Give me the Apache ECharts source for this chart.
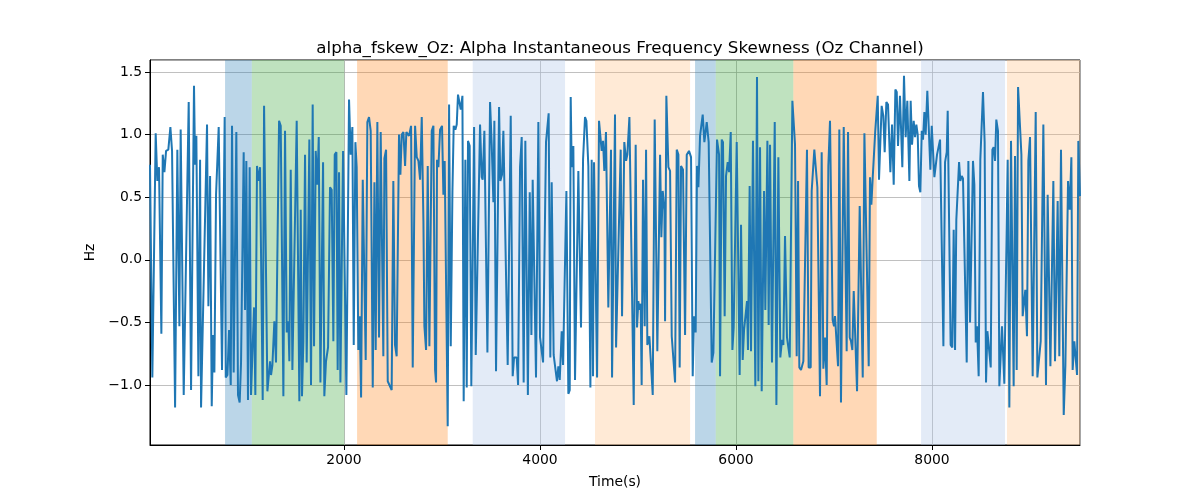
<!DOCTYPE html>
<html>
<head>
<meta charset="utf-8">
<script src="https://cdn.jsdelivr.net/npm/echarts@6/dist/echarts.min.js"></script>
<style>
html,body{margin:0;padding:0;background:#fff;}
#chart{width:1200px;height:500px;}
</style>
</head>
<body>
<div id="chart"></div>
<script>
// Time (s) and alpha frequency skewness (Hz) pairs
const fskewOz = [
[20,0.76],[44,-0.94],[78,1.01],[95,0.63],[112,0.74],[126,0.74],[136,-0.59],[150,0.84],[167,0.70],[184,0.87],
[207,0.88],[228,1.06],[245,0.87],[276,-1.18],[299,0.88],[320,-0.53],[333,1.04],[364,-1.08],[415,1.26],[425,1.26],
[439,-1.04],[469,1.39],[480,0.76],[493,0.99],[514,-0.93],[531,0.80],[541,-1.18],[602,1.08],[616,-0.37],[633,0.67],
[650,-1.17],[663,-0.60],[677,-0.90],[694,0.52],[721,1.06],[755,-0.88],[782,1.14],[793,-0.94],[810,-0.92],[827,-0.56],
[844,-1.0],[857,1.07],[874,-0.90],[901,1.02],[918,-1.08],[935,-1.14],[949,-0.82],[966,-0.81],
[976,0.86],[990,-0.40],[1003,0.79],[1020,-1.12],[1037,0.74],[1051,-1.08],[1068,-0.68],[1082,-0.38],[1095,-1.08],[1112,0.75],
[1126,0.63],[1143,0.74],[1170,-1.12],[1184,1.23],[1218,-1.05],[1245,-0.81],[1255,-0.92],[1269,-0.84],[1289,-0.49],[1306,-0.82],
[1337,1.11],[1354,1.07],[1381,-1.09],[1398,1.03],[1415,-0.58],[1432,-0.49],[1442,-0.81],[1456,0.72],[1473,-0.88],[1517,1.11],
[1544,-1.13],[1558,0.40],[1571,-1.09],[1585,-0.65],[1602,0.84],[1619,-0.82],[1646,0.96],[1663,-1.0],[1680,1.24],[1694,-0.69],
[1711,0.87],[1728,0.60],[1742,0.98],[1759,-0.98],[1786,0.78],[1799,-1.09],[1816,-0.81],[1837,-0.70],[1857,0.58],[1874,0.56],
[1891,-0.65],[1905,0.84],[1922,0.86],[1935,-0.88],[1949,0.70],
[1963,-0.98],[1990,0.87],[2024,-1.08],[2051,1.28],[2068,0.84],[2085,1.06],[2099,-0.68],[2116,0.94],[2129,0.74],[2146,-0.72],
[2160,-0.45],[2174,-1.10],[2191,0.64],[2221,-0.80],[2238,1.10],[2255,1.14],[2272,1.03],[2293,-1.02],[2310,0.62],[2323,-0.72],
[2340,1.10],[2357,-0.62],[2374,1.02],[2401,-0.77],[2412,0.81],[2429,0.88],[2446,-0.97],[2463,-1.0],[2486,-1.04],[2503,0.63],
[2520,-0.68],[2537,-0.77],[2561,1.0],[2575,0.68],[2589,1.0],[2606,1.02],[2623,0.75],[2636,1.02],[2663,0.99],[2684,1.07],
[2701,-0.86],[2725,1.07],[2742,0.82],[2759,0.79],[2776,0.64],[2793,1.14],[2810,0.31],[2820,-0.53],[2837,-0.72],[2854,0.75],
[2871,-0.69],[2895,1.03],[2912,1.07],
[2929,-0.88],[2939,-0.98],[2949,0.80],[2963,0.74],[2980,1.04],[3000,1.07],[3014,0.52],[3027,0.79],[3058,-1.33],[3072,1.24],
[3089,-0.69],[3106,0.54],[3119,1.07],[3136,1.04],[3150,1.08],[3163,1.32],[3177,1.26],[3191,1.20],[3208,1.31],[3221,-1.13],
[3238,0.80],[3252,-1.02],[3265,0.95],[3282,0.91],[3299,-1.01],[3313,-1.0],[3327,1.06],[3344,-0.76],[3388,1.08],[3405,0.66],
[3415,0.64],[3432,1.03],[3463,-0.74],[3490,1.26],[3507,0.92],[3524,0.46],[3534,1.11],[3551,-0.89],[3582,1.22],[3595,0.63],
[3612,0.68],[3626,1.03],[3670,-0.84],[3701,1.15],[3721,-0.93],[3735,-0.78],[3762,-0.78],[3776,-1.0],[3796,0.74],[3813,0.98],
[3833,-0.98],[3850,0.95],[3876,-1.08],[3895,0.54],
[3912,-0.60],[3925,0.64],[3959,-0.94],[3983,1.10],[4000,-0.62],[4031,-0.82],[4061,0.94],[4088,1.17],[4105,-0.78],[4119,0.62],
[4139,-0.76],[4173,-0.97],[4187,-0.85],[4201,-0.96],[4221,-0.57],[4235,-0.84],[4269,0.55],[4289,-1.07],[4303,-1.04],[4313,1.30],
[4323,0.74],[4340,0.91],[4357,-0.96],[4391,0.71],[4418,-0.54],[4439,0.80],[4459,1.14],[4473,1.11],[4493,0.75],[4514,-1.02],
[4527,0.80],[4541,-0.93],[4551,0.78],[4582,-0.94],[4602,1.11],[4616,1.12],[4629,0.87],[4643,0.95],[4656,0.71],[4673,1.02],
[4697,-0.38],[4724,0.88],[4735,-0.94],[4765,1.16],[4776,-0.70],[4793,-0.70],[4823,0.88],[4837,-0.45],[4860,0.94],
[4878,0.79],[4891,0.84],[4912,1.14],[4956,-1.16],[4976,0.92],[4990,-0.54],[5003,-0.33],[5014,-0.40],[5027,-0.35],[5037,-1.0],
[5051,0.64],[5068,-0.53],[5082,0.88],[5095,-0.68],[5116,-0.61],[5150,-1.08],[5170,1.12],[5197,-0.73],[5225,0.84],[5238,0.18],
[5252,0.55],[5269,0.40],[5276,-0.49],[5289,1.31],[5310,0.74],[5327,0.71],[5344,-0.61],[5378,-0.98],[5395,0.88],[5412,0.84],
[5425,-0.86],[5439,0.75],[5459,0.72],[5480,-0.60],[5497,0.84],[5520,0.87],[5541,0.82],[5558,-0.93],[5571,-0.45],[5588,-0.58],
[5602,0.75],[5616,0.58],[5633,0.99],[5660,1.16],[5677,0.94],[5701,1.10],[5721,0.94],[5752,-0.82],[5769,-0.74],[5806,0.96],
[5827,0.84],
[5837,-0.93],[5854,0.96],[5867,0.94],[5884,-0.45],[5898,0.67],[5915,0.78],[5929,0.70],[5946,1.02],[5963,-0.72],[5976,-0.54],
[6007,0.94],[6037,-0.92],[6051,0.28],[6068,-0.80],[6082,-0.56],[6099,-0.56],[6112,-0.33],[6122,-0.72],[6139,0.59],[6153,-0.73],
[6173,0.95],[6197,-1.01],[6214,1.46],[6228,-0.97],[6245,0.90],[6262,-1.05],[6286,0.55],[6299,-0.40],[6320,0.95],[6333,-0.52],
[6347,0.92],[6367,-0.82],[6395,1.10],[6412,-1.16],[6432,0.82],[6452,-0.78],[6469,-0.64],[6483,-0.68],[6500,0.19],[6520,-0.62],
[6548,-0.78],[6575,1.27],[6602,0.92],[6619,-0.77],[6633,0.63],[6646,-0.86],[6663,-0.88],[6687,-0.81],[6724,0.88],[6741,-0.86],
[6762,-0.86],[6772,0.55],[6799,0.88],
[6830,0.58],[6857,-1.09],[6874,0.86],[6891,-0.87],[6908,-0.62],[6925,-1.0],[6942,0.75],[6959,1.11],[6973,1.10],[6986,-0.48],
[7000,-0.53],[7010,-0.45],[7041,-0.85],[7054,1.04],[7071,-1.14],[7099,1.06],[7129,-0.73],[7143,1.02],[7160,-0.62],[7173,-0.65],
[7187,-0.72],[7201,-0.25],[7235,-1.05],[7262,0.43],[7293,-0.94],[7310,1.01],[7323,1.02],[7354,-0.85],[7367,0.66],[7381,0.44],
[7395,0.66],[7420,1.02],[7446,1.31],[7459,0.64],[7486,1.23],[7503,1.15],[7517,0.86],[7534,1.26],[7551,1.24],[7575,0.70],
[7592,1.08],[7609,0.60],[7626,1.36],[7640,1.34],[7653,0.91],[7673,1.31],[7697,0.74],[7714,1.47],[7731,0.98],[7748,1.27],
[7769,0.63],
[7782,1.27],[7796,0.92],[7813,1.11],[7827,0.98],[7840,1.08],[7854,1.0],[7867,0.59],[7881,0.54],[7895,1.03],[7908,0.96],
[7922,1.18],[7935,1.0],[7952,1.35],[7966,1.07],[7983,0.72],[7997,1.07],[8024,0.66],[8051,0.84],[8082,0.96],[8116,-0.69],
[8133,0.78],[8150,0.86],[8160,1.19],[8190,-0.68],[8207,-0.70],[8221,0.24],[8235,-0.72],[8248,0.32],[8262,0.32],[8276,0.78],
[8289,0.63],[8303,0.67],[8316,0.65],[8354,-0.82],[8371,0.79],[8388,-0.50],[8418,0.79],[8432,0.60],[8446,-0.66],[8459,-0.53],
[8476,-0.93],[8493,0.80],[8520,1.34],[8537,0.94],[8551,-0.98],[8565,-0.57],[8599,-0.86],[8616,0.88],[8629,0.90],[8643,0.79],
[8656,1.12],[8673,1.03],[8687,-1.01],[8714,-0.53],[8738,-0.99],
[8772,0.80],[8789,-1.18],[8806,0.95],[8833,-1.01],[8847,0.83],[8864,-0.88],[8878,1.38],[8912,0.84],[8925,-0.45],[8952,-0.24],
[8969,-0.61],[8983,0.79],[9000,0.98],[9027,-0.93],[9058,1.18],[9075,-0.94],[9109,-0.65],[9136,1.08],[9163,-1.0],[9180,0.52],
[9208,-0.85],[9238,0.63],[9255,-0.81],[9282,0.47],[9299,-0.77],[9316,0.88],[9344,-1.24],[9361,-0.84],[9388,0.63],[9405,0.40],
[9422,0.82],[9435,-0.88],[9452,-0.65],[9480,-0.92],[9493,0.95],[9510,0.51]
];

// Shaded event windows (seconds)
const spanStart = [786, 1059, 2133, 3313, 4561, 5582, 5793, 6585, 7888, 8765];
const spanEnd   = [1059, 2003, 3058, 4255, 5531, 5793, 6585, 7436, 8745, 9510];
const spanKind  = ['blue','green','orange','lightblue','lightorange','blue','green','orange','lightblue','lightorange'];

const xRange = [20, 9510];
const yRange = [-1.479, 1.596];

const titleText = 'alpha_fskew_Oz: Alpha Instantaneous Frequency Skewness (Oz Channel)';
const xName = 'Time(s)';
const yName = 'Hz';

// styles
const kindColor = {
  blue: 'rgba(31,119,180,0.3)',
  green: 'rgba(44,160,44,0.3)',
  orange: 'rgba(255,127,14,0.3)',
  lightblue: 'rgba(174,199,232,0.35)',
  lightorange: 'rgba(255,187,120,0.3)'
};

const FONT = 'DejaVu Sans';
const chart = echarts.init(document.getElementById('chart'), null, {renderer: 'canvas'});

const areas = spanStart.map((s, i) => [
  {xAxis: s, itemStyle: {color: kindColor[spanKind[i]]}},
  {xAxis: spanEnd[i]}
]);

const fmtMinus = v => {
  const s = (Math.round(v * 10) / 10).toFixed(1);
  return s.replace('-', '\u2212');
};

chart.setOption({
  animation: false,
  backgroundColor: '#fff',
  title: {
    text: titleText,
    left: 615, textAlign: 'center',
    top: 35,
    textStyle: {fontFamily: FONT, fontSize: 16.7, fontWeight: 'normal', color: '#000'}
  },
  grid: {
    left: 150, right: 120, top: 60, bottom: 55,
    show: true, borderColor: '#000', borderWidth: 1, backgroundColor: 'transparent'
  },
  xAxis: {
    type: 'value',
    min: xRange[0], max: xRange[1],
    splitNumber: 5,
    name: xName, nameLocation: 'middle', nameGap: 30,
    nameTextStyle: {fontFamily: FONT, fontSize: 13.9, color: '#000'},
    axisLine: {show: true, onZero: false, lineStyle: {color: '#000', width: 1}},
    axisTick: {show: true, length: 5, lineStyle: {color: '#000'}},
    axisLabel: {
      fontFamily: FONT, fontSize: 13.9, color: '#000', margin: 8,
      showMinLabel: false, showMaxLabel: false,
      formatter: v => String(Math.round(v))
    },
    splitLine: {show: true, lineStyle: {color: '#b0b0b0', width: 0.8}}
  },
  yAxis: {
    type: 'value',
    min: yRange[0], max: yRange[1],
    splitNumber: 5,
    name: yName, nameLocation: 'middle', nameGap: 47, nameRotate: 90,
    nameTextStyle: {fontFamily: FONT, fontSize: 13.9, color: '#000'},
    axisLine: {show: true, onZero: false, lineStyle: {color: '#000', width: 1}},
    axisTick: {show: true, length: 5, lineStyle: {color: '#000'}},
    axisLabel: {
      fontFamily: FONT, fontSize: 13.9, color: '#000', margin: 8,
      showMinLabel: false, showMaxLabel: false,
      formatter: fmtMinus
    },
    splitLine: {show: true, lineStyle: {color: '#b0b0b0', width: 0.8}}
  },
  series: [
    {
      type: 'line',
      data: [],
      z: 1,
      silent: true,
      markArea: {silent: true, data: areas}
    },
    {
      type: 'line',
      data: fskewOz,
      z: 3,
      showSymbol: false,
      symbol: 'none',
      clip: true,
      lineStyle: {color: '#1f77b4', width: 2},
      itemStyle: {color: '#1f77b4'}
    }
  ]
});
</script>
</body>
</html>
